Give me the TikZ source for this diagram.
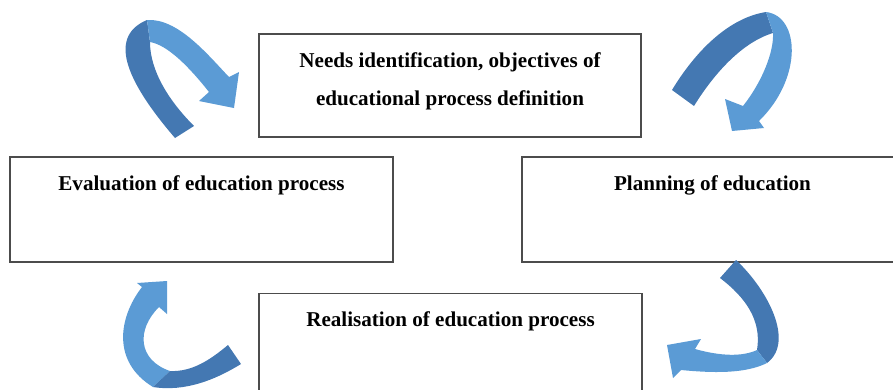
\documentclass[tikz,border=0pt]{standalone}
\usepackage{fontspec}
\setmainfont{Liberation Serif}
\definecolor{arrowdark}{RGB}{68,120,178}
\definecolor{arrowlight}{RGB}{91,155,213}

\begin{document}
\begin{tikzpicture}[x=0.025cm,y=-0.025cm,
    stage/.style={rectangle,draw=black!70,line width=0.8pt,minimum width=9.575cm,minimum height=2.625cm,inner sep=0pt},
    stagetext/.style={font=\bfseries\fontsize{15}{27}\selectfont,align=center,inner sep=0pt},
    back/.style={fill=arrowdark},
    front/.style={fill=arrowlight}]
    \useasboundingbox (0,0) rectangle (893,389);
    \clip (0,0) rectangle (893,389);

    % stages of the cycle
    \node[stage,minimum width=9.55cm,minimum height=2.575cm] (needs) at (450,85.5) {};
    \node[stage] (eval) at (201.5,209.5) {};
    \node[stage] (plan) at (713.5,209.5) {};
    \node[stage] (real) at (450.5,346) {};

    \node[stagetext,anchor=north] (needsT) at (450,52) {Needs identification, objectives of\\educational process definition};
    \node[stagetext,anchor=base] (evalT) at (201.5,190) {Evaluation of education process};
    \node[stagetext,anchor=base] (planT) at (712.5,190) {Planning of education};
    \node[stagetext,anchor=base] (realT) at (450.5,326) {Realisation of education process};

    % curved arrows, back of the ribbon dark, front light
    % top left
    \fill[back] (175,138) .. controls (132,88) and (104,38) .. (147,20) -- (150,42)
        .. controls (150,70) and (168,100) .. (194,126) -- cycle;
    \fill[front] (147,20) .. controls (178,18) and (208,55) .. (229,77) -- (239,72) -- (234,108)
        -- (199,101) -- (209,92) .. controls (190,68) and (168,45) .. (150,42) -- cycle;
    % top right
    \fill[back] (672,90) .. controls (695,52) and (728,18) .. (766,12) -- (773,33)
        .. controls (743,42) and (715,72) .. (694,106) -- cycle;
    \fill[front] (766,12) .. controls (800,16) and (803,78) .. (759,121) -- (764,128) -- (732,131)
        -- (725,99) -- (743,106) .. controls (762,82) and (774,52) .. (773,33) -- cycle;
    % bottom right
    \fill[back] (736,260) .. controls (768,290) and (795,342) .. (767,363) -- (757,350)
        .. controls (762,320) and (745,297) .. (720,278) -- cycle;
    \fill[front] (767,363) .. controls (745,374) and (712,373) .. (681,370) -- (673,378) -- (667,345)
        -- (701,339) -- (695,349) .. controls (720,356) and (742,357) .. (757,350) -- cycle;
    % bottom left
    \fill[front] (142,287) .. controls (118,318) and (112,362) .. (153,387) -- (170,371)
        .. controls (138,360) and (136,330) .. (159,307) -- (167,314) -- (167,281)
        -- (137,283) -- cycle;
    \fill[back] (153,387) .. controls (185,392) and (215,380) .. (241,364) -- (228,345)
        .. controls (210,360) and (192,372) .. (170,371) -- cycle;
\end{tikzpicture}
\end{document}
